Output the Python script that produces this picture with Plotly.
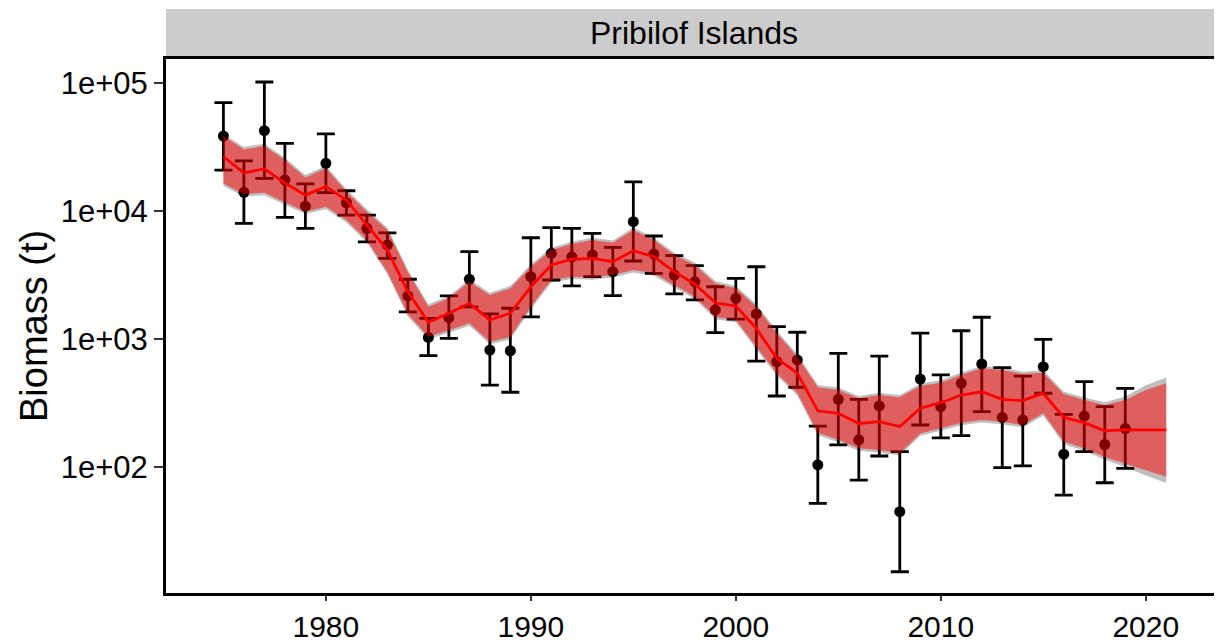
import plotly.graph_objects as go

years = list(range(1975, 2022))
obs_years = list(range(1975, 2020))

obs = [38500, 14000, 42400, 17500, 10900, 23600, 11600, 7330, 5420, 2170,
       1030, 1470, 2930, 820, 810, 3070, 4670, 4390, 4530, 3360,
       8250, 4610, 3160, 2800, 1690, 2080, 1570, 665, 686, 104,
       338, 163, 300, 44.8, 487, 296, 451, 638, 244, 233,
       608, 126, 250, 150, 200]
obs_hi = [70200, 24600, 101800, 33800, 16300, 40000, 14400, 9300, 6760, 2930,
          1450, 2170, 4810, 1570, 1740, 6180, 7410, 7330, 6700, 5200,
          16900, 6380, 4480, 3740, 2560, 2980, 3670, 1250, 1130, 209,
          773, 338, 736, 132, 1110, 524, 1160, 1480, 597, 514,
          995, 258, 464, 296, 412]
obs_lo = [20900, 8020, 18000, 8930, 7330, 13900, 9300, 5750, 4270, 1630,
          741, 1010, 1780, 437, 384, 1490, 2890, 2600, 3070, 2180,
          4070, 3260, 2250, 2020, 1120, 1430, 673, 359, 420, 52,
          149, 79, 122, 15.2, 213, 169, 176, 271, 98.8, 102,
          377, 60.4, 132, 75.4, 97.7]

fit = [26600, 19900, 21300, 16600, 13300, 15500, 12200, 7780, 4960, 2340,
       1350, 1590, 1900, 1410, 1590, 2560, 3790, 4200, 4270, 4020,
       4900, 4400, 3360, 2690, 1920, 1810, 1210, 706, 540, 275,
       263, 219, 226, 207, 288, 318, 365, 387, 338, 330,
       377, 244, 222, 192, 195, 195, 195]
fit_hi = [38500, 30300, 32200, 25000, 18300, 21600, 14200, 9890, 7110, 3340,
          1790, 2080, 2800, 2210, 2490, 3670, 4960, 5520, 5930, 5650,
          7110, 5930, 4530, 3790, 2720, 2490, 1790, 1110, 728, 420,
          400, 344, 365, 351, 430, 456, 524, 590, 573, 533,
          546, 372, 334, 305, 334, 400, 451]
fit_lo = [16400, 13600, 13900, 11800, 9890, 10800, 8510, 5930, 3340, 1570,
          1040, 1170, 1330, 953, 1040, 1790, 2890, 3070, 3030, 3160,
          3460, 3260, 2640, 2140, 1490, 1410, 871, 540, 378, 185,
          163, 140, 136, 129, 183, 201, 222, 233, 226, 213,
          263, 158, 140, 120, 107, 95, 84]
alt_hi = [40000, 31600, 33600, 26100, 19100, 22600, 14800, 10300, 7400, 3480,
          1870, 2170, 2920, 2300, 2600, 3830, 5170, 5760, 6190, 5890,
          7420, 6190, 4730, 3960, 2840, 2600, 1870, 1160, 760, 438,
          418, 359, 381, 366, 449, 476, 547, 616, 598, 556,
          570, 388, 349, 320, 355, 435, 500]
alt_lo = [15700, 13000, 13300, 11300, 9460, 10300, 8140, 5670, 3200, 1500,
          995, 1120, 1270, 912, 995, 1710, 2770, 2940, 2900, 3020,
          3310, 3120, 2530, 2050, 1430, 1350, 833, 517, 362, 177,
          156, 134, 130, 123, 175, 192, 212, 223, 216, 204,
          252, 151, 134, 114, 100, 86, 75]

x_ticks = [1980, 1990, 2000, 2010, 2020]
y_ticks = [100, 1000, 10000, 100000]
y_tick_text = ["1e+02", "1e+03", "1e+04", "1e+05"]
panel_title = "Pribilof Islands"
y_title = "Biomass (t)"

FONT = "Liberation Sans, Arial, Helvetica, sans-serif"

fig = go.Figure()

# grey ribbon (behind)
fig.add_trace(go.Scatter(x=years, y=alt_lo, mode="lines", line=dict(width=0, color="rgba(0,0,0,0)"),
                         showlegend=False, hoverinfo="skip"))
fig.add_trace(go.Scatter(x=years, y=alt_hi, mode="lines", line=dict(width=0, color="rgba(0,0,0,0)"),
                         fill="tonexty", fillcolor="rgb(190,190,190)", showlegend=False, hoverinfo="skip"))

# observations with error bars
err_plus = [h - o for h, o in zip(obs_hi, obs)]
err_minus = [o - l for o, l in zip(obs, obs_lo)]
fig.add_trace(go.Scatter(x=obs_years, y=obs, mode="markers",
                         marker=dict(size=11, color="black"),
                         error_y=dict(type="data", array=err_plus, arrayminus=err_minus,
                                      color="black", thickness=2.8, width=9),
                         showlegend=False))

# red ribbon on top
fig.add_trace(go.Scatter(x=years, y=fit_lo, mode="lines", line=dict(width=0, color="rgba(0,0,0,0)"),
                         showlegend=False, hoverinfo="skip"))
fig.add_trace(go.Scatter(x=years, y=fit_hi, mode="lines", line=dict(width=0, color="rgba(0,0,0,0)"),
                         fill="tonexty", fillcolor="rgba(255,0,0,0.5)", showlegend=False, hoverinfo="skip"))

# fitted line
fig.add_trace(go.Scatter(x=years, y=fit, mode="lines", line=dict(color="rgb(255,0,0)", width=2.8),
                         showlegend=False))

# page has an 8px body margin: figure spans page x 8..1222, y 8..643
W, H = 1214, 635
L, R, T, B = 158, 0, 51, 50
plot_h = H - T - B  # 534
plot_w = W - L - R  # 1056

fig.update_layout(
    width=W, height=H,
    margin=dict(l=L, r=R, t=T, b=B, pad=0, autoexpand=False),
    paper_bgcolor="white", plot_bgcolor="white",
    font=dict(family=FONT, color="black"),
    xaxis=dict(range=[1972.2, 2023.72], tickvals=x_ticks, ticks="outside", ticklen=5, tickwidth=1.5,
               tickcolor="#333333", showline=True, linecolor="black", linewidth=3, mirror=True,
               showgrid=False, zeroline=False, automargin=False,
               tickfont=dict(size=30, color="black", family=FONT)),
    yaxis=dict(type="log", range=[1.016, 5.1875], tickvals=y_ticks, ticktext=y_tick_text,
               ticks="outside", ticklen=9, tickwidth=1.5, tickcolor="#333333",
               showline=True, linecolor="black", linewidth=3, showgrid=False, zeroline=False,
               automargin=False, tickfont=dict(size=31, color="black", family=FONT)),
    shapes=[dict(type="rect", xref="paper", yref="paper", x0=0, x1=1, y0=1 + 1.5 / plot_h,
                 y1=(T + plot_h - 1) / plot_h, fillcolor="rgb(204,204,204)", line=dict(width=0),
                 layer="below")],
    annotations=[
        dict(text=panel_title, xref="paper", yref="paper", x=0.5, y=(T + plot_h - 25) / plot_h,
             xanchor="center", yanchor="middle", showarrow=False, font=dict(size=32, family=FONT, color="black")),
        dict(text=y_title, xref="paper", yref="paper", x=(26 - L) / plot_w, y=0.5, textangle=-90,
             xanchor="center", yanchor="middle", showarrow=False, font=dict(size=38, family=FONT, color="black")),
    ],
)

fig.write_html("out.html")
